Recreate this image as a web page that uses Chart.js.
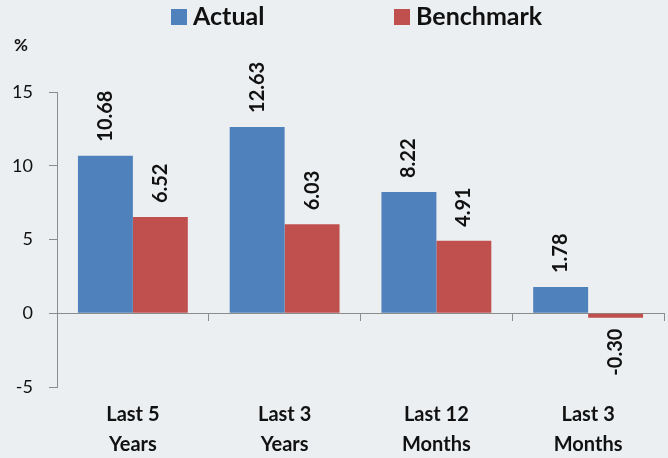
<!DOCTYPE html>
<html>
<head>
<meta charset="utf-8">
<script src="https://cdn.jsdelivr.net/npm/chart.js@4.4.0/dist/chart.umd.min.js"></script>
<style>
  body { margin: 0; background: #ECEFF1; }
  #wrap { width: 668px; height: 458px; position: relative; }
</style>
</head>
<body>
<div id="wrap"><canvas id="perfChart"></canvas></div>
<script>
// chart data
const categories = [['Last 5', 'Years'], ['Last 3', 'Years'], ['Last 12', 'Months'], ['Last 3', 'Months']];
const actualValues = [10.68, 12.63, 8.22, 1.78];
const benchmarkValues = [6.52, 6.03, 4.91, -0.30];
const seriesNames = ['Actual', 'Benchmark'];
const yTicks = [-5, 0, 5, 10, 15];

const blue = '#4F81BD';
const red = '#C0504D';
const axisGrey = '#8C8C8C';
const textColor = '#111111';

Chart.defaults.font.family = 'Lato';
Chart.defaults.color = textColor;

// value labels, rotated, above (or below) each bar
const valueLabels = {
    id: 'valueLabels',
    afterDatasetsDraw(chart) {
        const ctx = chart.ctx;
        ctx.save();
        ctx.font = 'bold 20px Lato';
        ctx.fillStyle = textColor;
        ctx.textBaseline = 'middle';
        chart.data.datasets.forEach((ds, i) => {
            chart.getDatasetMeta(i).data.forEach((bar, j) => {
                const v = ds.data[j];
                ctx.save();
                if (v >= 0) {
                    ctx.translate(bar.x, bar.y - 14);
                    ctx.rotate(-Math.PI / 2);
                    ctx.textAlign = 'left';
                } else {
                    ctx.translate(bar.x, bar.y + 11);
                    ctx.rotate(-Math.PI / 2);
                    ctx.textAlign = 'right';
                }
                ctx.fillText(v.toFixed(2), 0, 0);
                ctx.restore();
            });
        });
        ctx.restore();
    }
};

// legend at top and the "%" unit label
const topLegend = {
    id: 'topLegend',
    afterDraw(chart) {
        const ctx = chart.ctx;
        const items = [{ x: 171, text: seriesNames[0], color: blue }, { x: 394, text: seriesNames[1], color: red }];
        ctx.save();
        ctx.textBaseline = 'middle';
        ctx.textAlign = 'left';
        ctx.font = 'bold 25px Lato';
        items.forEach(it => {
            ctx.fillStyle = it.color;
            ctx.fillRect(it.x, 9, 16, 16);
            ctx.fillStyle = textColor;
            ctx.fillText(it.text, it.x + 22, 17);
        });
        ctx.font = 'bold 17px Lato';
        ctx.textAlign = 'center';
        ctx.fillText('%', 21, 46);
        ctx.restore();
    }
};

new Chart(document.getElementById('perfChart'), {
    type: 'bar',
    data: {
        labels: categories,
        datasets: [
            { label: seriesNames[0], data: actualValues, backgroundColor: blue, xAxisID: 'x' },
            { label: seriesNames[1], data: benchmarkValues, backgroundColor: red, xAxisID: 'x' }
        ]
    },
    options: {
        responsive: true,
        maintainAspectRatio: false,
        animation: false,
        categoryPercentage: 0.724,
        barPercentage: 1,
        layout: { padding: { top: 92, right: 4, left: 0, bottom: 0 } },
        plugins: {
            legend: { display: false },
            tooltip: { enabled: false }
        },
        scales: {
            // axis line at zero with tick marks between categories
            x: {
                type: 'category',
                position: { y: 0 },
                offset: true,
                grid: { offset: true, drawOnChartArea: false, tickLength: 7, color: axisGrey },
                border: { color: axisGrey },
                ticks: { display: false },
                afterFit(scale) {
                    scale.height = 0;
                }
            },
            // category labels at the bottom
            xl: {
                type: 'category',
                position: 'bottom',
                offset: true,
                grid: { display: false, drawTicks: false },
                border: { display: false },
                ticks: {
                    font: { size: 20, weight: 'bold', lineHeight: 1.5 },
                    color: textColor,
                    padding: 13,
                    maxRotation: 0
                },
                afterFit(scale) {
                    scale.height = 71;
                }
            },
            y: {
                min: yTicks[0],
                max: yTicks[yTicks.length - 1],
                afterBuildTicks(scale) {
                    scale.ticks = yTicks.map(v => ({ value: v }));
                },
                afterFit(scale) {
                    scale.width = 57;
                },
                grid: { drawOnChartArea: false, tickLength: 8, color: axisGrey },
                border: { color: axisGrey },
                ticks: { font: { size: 18 }, color: textColor, padding: 16 }
            }
        }
    },
    plugins: [valueLabels, topLegend]
});
</script>
</body>
</html>
